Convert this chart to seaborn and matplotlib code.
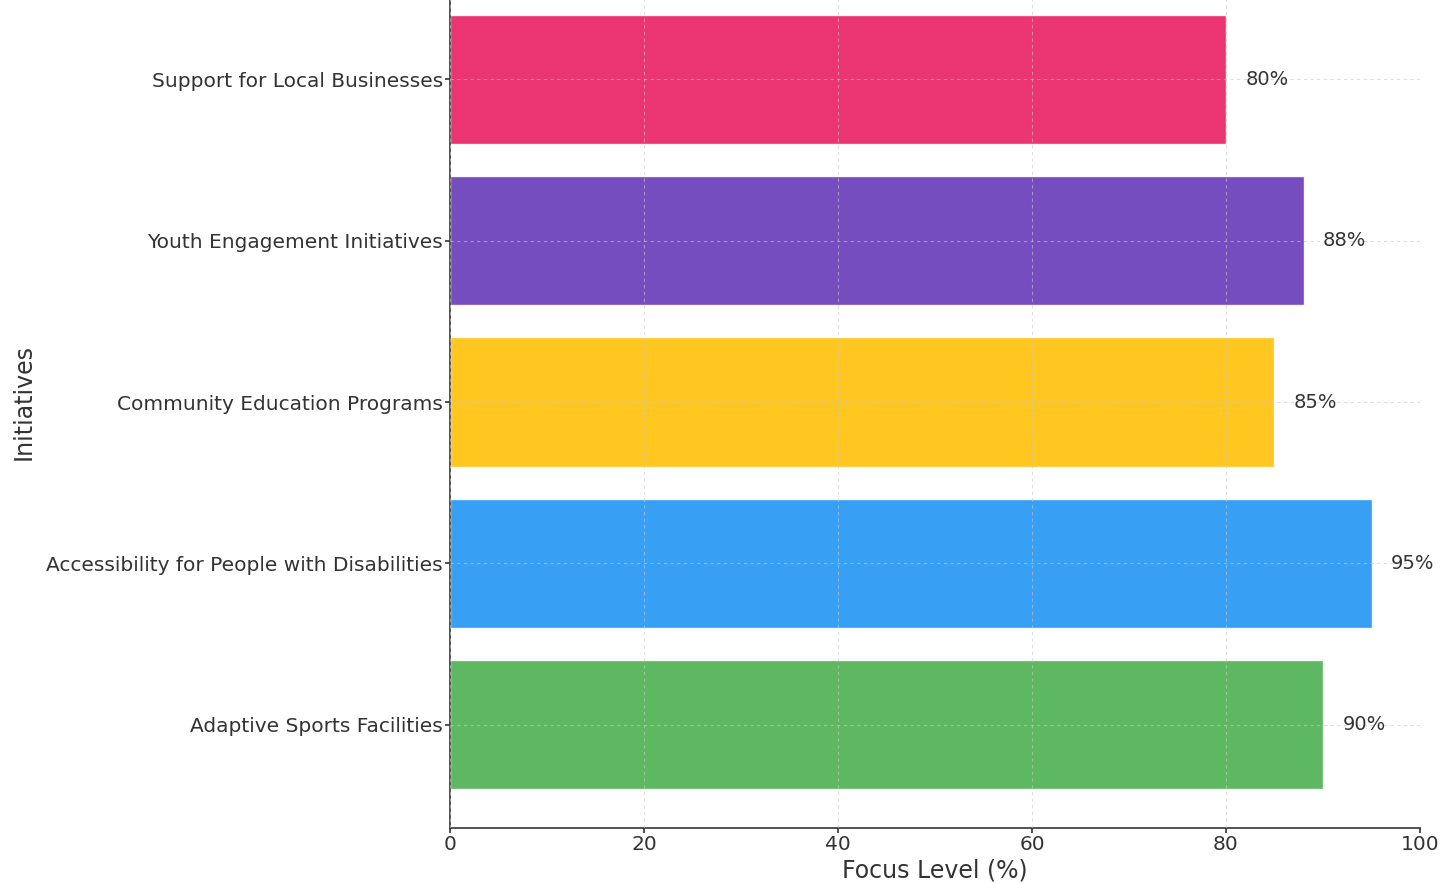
import matplotlib.pyplot as plt
import pandas as pd
import seaborn as sns

# Chart data
initiatives = [
    'Support for Local Businesses',
    'Youth Engagement Initiatives',
    'Community Education Programs',
    'Accessibility for People with Disabilities',
    'Adaptive Sports Facilities',
]
focus_levels = [80, 88, 85, 95, 90]
bar_colors = ['#E91E63', '#673AB7', '#FFC107', '#2196F3', '#4CAF50']

df = pd.DataFrame({'initiative': initiatives, 'focus': focus_levels})

sns.set_style('white')
plt.rcParams['font.family'] = ['DejaVu Sans']
plt.rcParams['text.color'] = '#333333'
plt.rcParams['axes.labelcolor'] = '#333333'
plt.rcParams['xtick.color'] = '#333333'
plt.rcParams['ytick.color'] = '#333333'

fig = plt.figure(figsize=(14.45, 8.84), dpi=100)
ax = fig.add_axes([0.3114, 0.0633, 0.6713, 0.9638])

sns.barplot(
    data=df,
    x='focus',
    y='initiative',
    hue='initiative',
    palette=bar_colors,
    alpha=0.9,
    width=0.8,
    legend=False,
    saturation=1,
    ax=ax
)

# percentage labels next to each bar
for i, val in enumerate(focus_levels):
    ax.text(val + 2, i, f'{val}%', va='center', ha='left', fontsize=14)

ax.set_xlim(0, 100)
ax.set_ylim(len(initiatives) - 0.36, -0.64)
ax.set_xlabel('Focus Level (%)', fontsize=17, labelpad=3)
ax.set_ylabel('Initiatives', fontsize=17, labelpad=8)
ax.tick_params(axis='both', labelsize=14.5, length=3.5, width=1.2, direction='out',
               left=True, bottom=True, pad=1.5)

ax.grid(True, linestyle=(0, (3, 3)), linewidth=0.8, color='#c8c8c8', alpha=0.6)
ax.set_axisbelow(False)

sns.despine(ax=ax)
for side in ['left', 'bottom']:
    ax.spines[side].set_color('#444444')
    ax.spines[side].set_linewidth(1.3)

fig.savefig('out.png', dpi=100)
